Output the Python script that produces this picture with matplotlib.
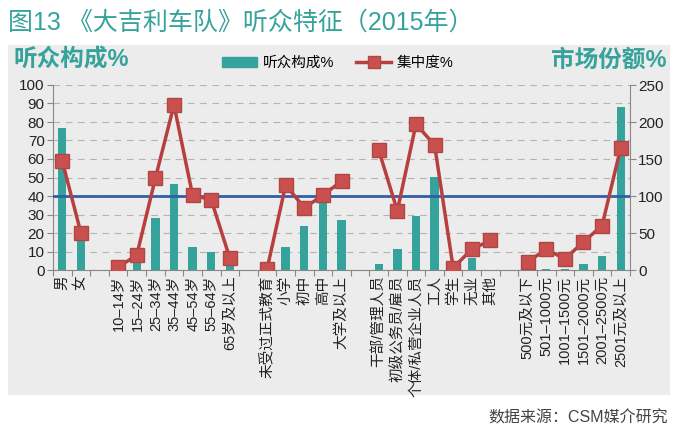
import numpy as np
import matplotlib.pyplot as plt
from matplotlib.patches import Rectangle
from matplotlib.lines import Line2D

plt.rcParams['font.family'] = ['Liberation Sans', 'Noto Sans CJK SC', 'DejaVu Sans']

# 类别 (空字符串为分组间隔)
categories = ['男', '女', '',
              '10–14岁', '15–24岁', '25–34岁', '35–44岁', '45–54岁', '55–64岁', '65岁及以上', '',
              '未受过正式教育', '小学', '初中', '高中', '大学及以上', '',
              '干部/管理人员', '初级公务员/雇员', '个体/私营企业人员', '工人', '学生', '无业', '其他', '',
              '500元及以下', '501–1000元', '1001–1500元', '1501–2000元', '2001–2500元', '2501元及以上']

# 听众构成% (左轴)
composition = [77, 17, None,
               1, 6, 28, 46.5, 12.5, 9.5, 2, None,
               0.5, 12.5, 24, 38, 27, None,
               3.5, 11.5, 29, 50.5, 1, 6.5, 0, None,
               0.5, 0.5, 0.5, 3, 7.5, 88]

# 集中度% (右轴)
concentration = [147, 50, None,
                 4, 20, 124, 223, 101, 95, 16, None,
                 1, 115, 84, 101, 120, None,
                 162, 80, 197, 169, 3, 28, 40, None,
                 11, 28, 15, 38, 60, 165]

teal = '#35a39b'
red_line = '#b73f3e'
red_face = '#c9504f'
blue = '#2f5fa8'

comp = np.array([np.nan if v is None else v for v in composition], dtype=float)
conc = np.array([np.nan if v is None else v for v in concentration], dtype=float)
x = np.arange(len(categories))

fig = plt.figure(figsize=(6.78, 4.44), dpi=100)
fig.patches.append(Rectangle((8 / 678, 1 - 395 / 444), 662 / 678, 350 / 444,
                             transform=fig.transFigure, facecolor='#ececec',
                             edgecolor='none', zorder=-10))

fig.text(8 / 678, 1 - 23 / 444, '图13 《大吉利车队》听众特征（2015年）', color=teal,
         fontsize=18, va='center', ha='left')
fig.text(13 / 678, 1 - 60 / 444, '听众构成%', color=teal, fontsize=17,
         fontweight='bold', va='center', ha='left')
fig.text(667 / 678, 1 - 60 / 444, '市场份额%', color=teal, fontsize=17,
         fontweight='bold', va='center', ha='right')
fig.text(668 / 678, 1 - 418 / 444, '数据来源：CSM媒介研究', color='#444444',
         fontsize=11.5, va='center', ha='right')

ax = fig.add_axes([53 / 678, 1 - 270 / 444, 577 / 678, 185 / 444])
ax.patch.set_alpha(0)
ax.bar(x, comp, width=0.45, color=teal, zorder=2)
ax.set_xlim(-0.5, len(categories) - 0.5)
ax.set_ylim(0, 100)
ax.set_yticks(np.arange(0, 101, 10))
ax.yaxis.grid(True, color='#b4b4b4', linestyle=(0, (6, 5)), linewidth=0.8, zorder=1)
ax.set_axisbelow(True)
ax.set_xticks(np.arange(-0.5, len(categories), 1))
ax.set_xticklabels([])
ax.set_xticks(x, minor=True)
ax.set_xticklabels(categories, minor=True, rotation=90, fontsize=10.5, color='#222222')
ax.tick_params(axis='x', which='minor', length=0, pad=4)
ax.tick_params(axis='x', which='major', length=4, color='#888888')
ax.tick_params(axis='y', length=4, color='#888888', labelsize=11, labelcolor='#222222', pad=2)
for s in ['top', 'right']:
    ax.spines[s].set_visible(False)
for s in ['left', 'bottom']:
    ax.spines[s].set_color('#888888')

ax2 = ax.twinx()
ax2.set_ylim(0, 250)
ax2.set_yticks(np.arange(0, 251, 50))
ax2.axhline(100, color=blue, linewidth=2, zorder=3)
ax2.plot(x, conc, color=red_line, linewidth=2.5, marker='s', markersize=10.5,
         markerfacecolor=red_face, markeredgecolor='#b04545', markeredgewidth=1, zorder=4)
ax2.tick_params(axis='y', length=4, color='#888888', labelsize=11, labelcolor='#222222', pad=2)
for s in ['top', 'left', 'bottom']:
    ax2.spines[s].set_visible(False)
ax2.spines['right'].set_color('#888888')

handles = [Rectangle((0, 0), 1, 1, color=teal),
           Line2D([0], [0], color=red_line, linewidth=2.5, marker='s', markersize=8,
                  markerfacecolor=red_face, markeredgecolor='#b04545')]
fig.legend(handles, ['听众构成%', '集中度%'], loc='center', ncol=2,
           bbox_to_anchor=(338 / 678, 1 - 63 / 444), frameon=False, fontsize=10.5,
           handlelength=2.4, handletextpad=0.4, columnspacing=1.5)

fig.savefig('out.png', dpi=100)
